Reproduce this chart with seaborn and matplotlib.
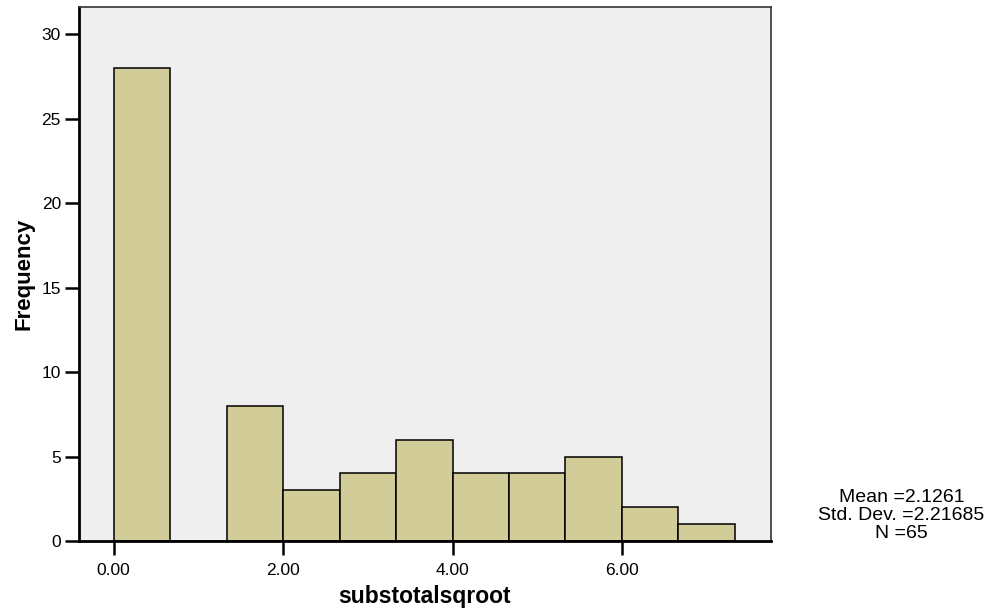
import seaborn as sns
import matplotlib.pyplot as plt
import numpy as np

# histogram bins (SPSS style, width 2/3)
bin_edges = [0.0, 0.6667, 1.3333, 2.0, 2.6667, 3.3333, 4.0, 4.6667, 5.3333, 6.0, 6.6667, 7.3333]
counts = [28, 0, 8, 3, 4, 6, 4, 4, 5, 2, 1]
x_ticks = [0.0, 2.0, 4.0, 6.0]
y_ticks = [0, 5, 10, 15, 20, 25, 30]
stats_text = "Mean =2.1261\nStd. Dev. =2.21685\nN =65"

centers = [(bin_edges[i] + bin_edges[i + 1]) / 2 for i in range(len(counts))]

sns.set_style("white")
plt.rcParams['font.family'] = ['Liberation Sans', 'DejaVu Sans']
plt.rcParams['text.color'] = 'black'
plt.rcParams['axes.labelcolor'] = 'black'
plt.rcParams['xtick.color'] = 'black'
plt.rcParams['ytick.color'] = 'black'

fig = plt.figure(figsize=(9.95, 6.15), dpi=100)
ax = fig.add_axes([0.0794, 0.1203, 0.6955, 0.8683])
ax.set_facecolor('#efefef')

sns.histplot(x=centers, weights=counts, bins=bin_edges, color='#d2cd98',
             alpha=1, edgecolor='black', linewidth=1.1, ax=ax)

ax.set_xlim(-0.41, 7.76)
ax.set_ylim(0, 31.6)
ax.set_xticks(x_ticks)
ax.set_xticklabels([f"{v:.2f}" for v in x_ticks])
ax.set_yticks(y_ticks)
ax.tick_params(axis='both', bottom=True, left=True, direction='out', length=10,
               width=1.8, labelsize=12.5, color='black', labelcolor='black')
ax.tick_params(axis='y', pad=3)
ax.tick_params(axis='x', pad=6)

for s in ['left', 'bottom']:
    ax.spines[s].set_linewidth(2)
    ax.spines[s].set_color('black')
for s in ['top', 'right']:
    ax.spines[s].set_linewidth(1.2)
    ax.spines[s].set_color('#333333')

ax.set_xlabel('substotalsqroot', fontsize=16.5, fontweight='bold', labelpad=5)
ax.set_ylabel('Frequency', fontsize=16, fontweight='bold', labelpad=5)

fig.text(0.906, 0.162, stats_text, ha='center', va='center', fontsize=14, linespacing=1.05)

fig.savefig('out.png', dpi=100)
